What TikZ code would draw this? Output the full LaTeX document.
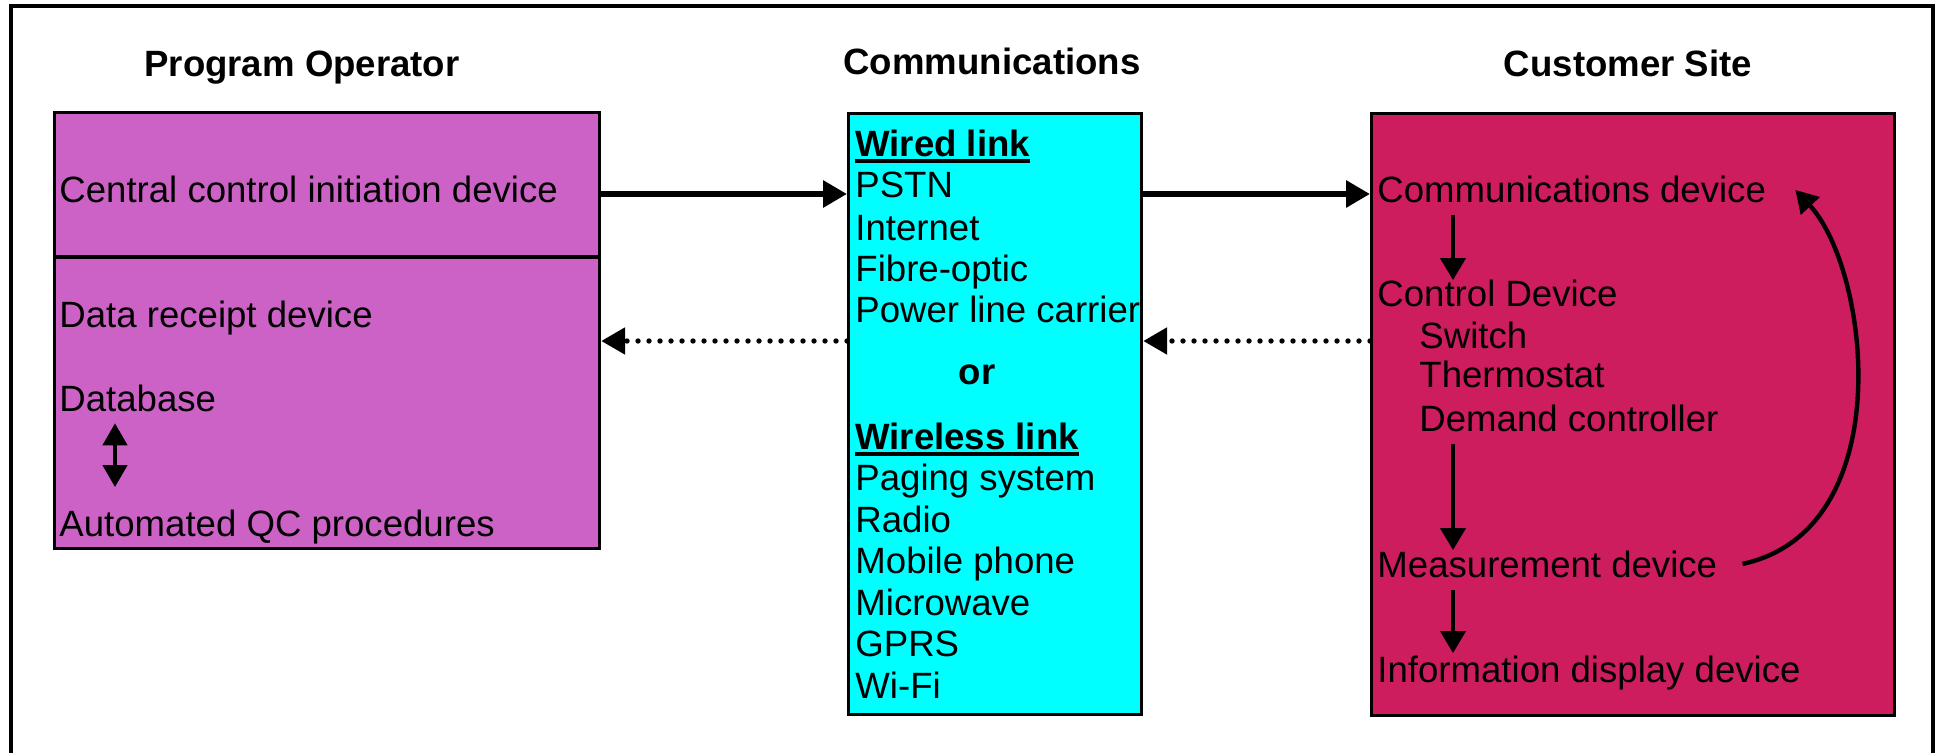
\documentclass[tikz,border=0pt]{standalone}
\usepackage{fontspec}
\setmainfont{Liberation Sans}
\usetikzlibrary{arrows.meta,positioning}
\definecolor{operatorpink}{RGB}{205,98,198}
\definecolor{commcyan}{RGB}{0,255,255}
\definecolor{customerred}{RGB}{205,29,95}
% underlined heading word
\newcommand{\ulword}[1]{\setbox0\hbox{#1}\rlap{\vrule height -1.2pt depth 3.2pt width \wd0}\box0}
\tikzset{
        % text lines
        txt/.style={anchor=base west, inner sep=0pt, font=\fontsize{18.3pt}{22pt}\selectfont},
        % column headings
        heading/.style={txt, anchor=base, font=\fontsize{18.3pt}{22pt}\selectfont\bfseries},
        % coloured boxes
        panel/.style={draw=black, line width=1.6pt, anchor=north west, inner sep=0pt},
        % solid links
        link/.style={line width=3.4pt, -{Triangle[length=12pt,width=13pt]}},
        % dotted return links
        reply/.style={line width=2.7pt, dash pattern=on 0pt off 5.5pt, line cap=round, -{Triangle[length=12pt,width=13pt]}},
        % arrows inside the boxes
        flow/.style={line width=2.2pt, -{Triangle[length=11pt,width=12.5pt]}}
}
\begin{document}
\begin{tikzpicture}[x=0.5pt, y=-0.5pt]
    \useasboundingbox (0,0) rectangle (1937,753);
    \draw[line width=1.8pt] (11,760) -- (11,6) -- (1933,6) -- (1933,760);

    % headings
    \node[heading] (h_op) at (302,77) {Program Operator};
    \node[heading] (h_comm) at (992,75) {Communications};
    \node[heading] (h_cust) at (1628,77) {Customer Site};

    % boxes
    \node[panel, fill=operatorpink, minimum width=272.5pt, minimum height=218pt] (op) at (53,111) {};
    \node[panel, fill=commcyan, minimum width=146.5pt, minimum height=300.5pt] (comm) at (847,112) {};
    \node[panel, fill=customerred, minimum width=261.5pt, minimum height=301pt] (cust) at (1370,112) {};
    \draw[line width=1.6pt] (op.west |- 0,257) -- (op.east |- 0,257);

    % program operator
    \node[txt] (central) at (59,203) {Central control initiation device};
    \node[txt] (receipt) at (59,328) {Data receipt device};
    \node[txt] (database) at (59,411) {Database};
    \node[txt] (autoqc) at (59,536) {Automated QC procedures};
    \coordinate (dbx) at (115,0);
    \draw[flow, {Triangle[length=11pt,width=12pt]}-{Triangle[length=11pt,width=12pt]}, shorten <=5.75pt, shorten >=11pt] (database.south -| dbx) -- (autoqc.north -| dbx);

    % communications
    \node[txt] (wired) at (855,157) {\ulword{\bfseries Wired link}};
    \node[txt] (pstn) at (855,198) {PSTN};
    \node[txt] (internet) at (855,241) {Internet};
    \node[txt] (fibre) at (855,282) {Fibre-optic};
    \node[txt] (plc) at (855,323) {Power line carrier};
    \node[heading] (or) at (977,385) {or};
    \node[txt] (wireless) at (855,450) {\ulword{\bfseries Wireless link}};
    \node[txt] (paging) at (855,490) {Paging system};
    \node[txt] (radio) at (855,532) {Radio};
    \node[txt] (mobile) at (855,573) {Mobile phone};
    \node[txt] (microwave) at (855,615) {Microwave};
    \node[txt] (gprs) at (855,656) {GPRS};
    \node[txt] (wifi) at (855,698) {Wi-Fi};

    % customer site
    \node[txt] (commdev) at (1377,203) {Communications device};
    \node[txt] (ctrldev) at (1377,307) {Control Device};
    \node[txt] (switch) at (1419,349) {Switch};
    \node[txt] (thermo) at (1419,387) {Thermostat};
    \node[txt] (demand) at (1419,431) {Demand controller};
    \node[txt] (meas) at (1377,577) {Measurement device};
    \node[txt] (info) at (1377,682) {Information display device};
    \coordinate (ax) at (1453,0);
    \draw[flow, shorten <=5.5pt] (commdev.south -| ax) -- (ctrldev.north -| ax);
    \draw[flow, shorten <=6pt] (demand.south -| ax) -- (meas.north -| ax);
    \draw[flow, shorten <=6pt, shorten >=1pt] (meas.south -| ax) -- (info.north -| ax);
    \draw[flow] ([xshift=12.5pt]meas.east) .. controls (1900,530) and (1870,270) .. ([xshift=14.5pt]commdev.east);

    % links between the boxes
    \draw[link] (op.east |- 0,194) -- (comm.west |- 0,194);
    \draw[link] (comm.east |- 0,194) -- (cust.west |- 0,194);
    \draw[reply] (comm.west |- 0,341) -- (op.east |- 0,341);
    \draw[reply] (cust.west |- 0,341) -- (comm.east |- 0,341);
\end{tikzpicture}
\end{document}
